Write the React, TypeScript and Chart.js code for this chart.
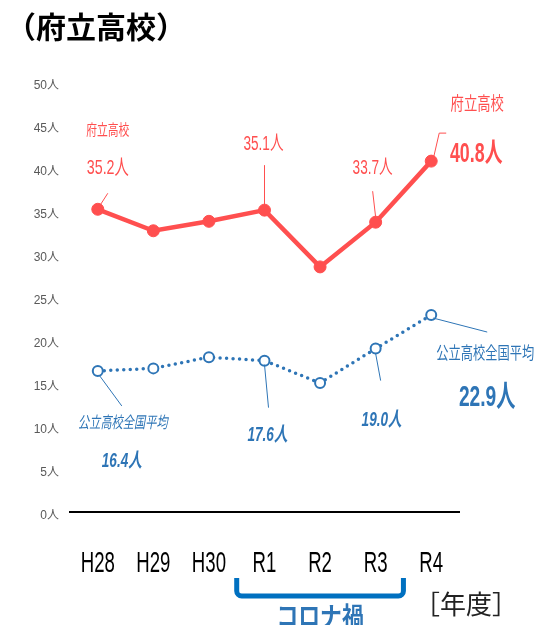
import React, { useEffect, useRef } from 'react';
import { Chart, registerables } from 'chart.js';

Chart.register(...registerables);

// ---- data ----
const categories = ['H28', 'H29', 'H30', 'R1', 'R2', 'R3', 'R4'];
const furitsuValues = [35.2, 32.7, 33.8, 35.1, 28.5, 33.7, 40.8];
const nationalValues = [16.4, 16.7, 18.0, 17.6, 15.0, 19.0, 22.9];
const yTickValues = [0, 5, 10, 15, 20, 25, 30, 35, 40, 45, 50];
const unitText = '人';
const furitsuName = '府立高校';
const nationalName = '公立高校全国平均';
const titleText = '（府立高校）';
const coronaText = 'コロナ禍';
const coronaFrom = 'R1';
const coronaTo = 'R3';
const yearUnitText = '［年度］';

// ---- styles ----
const RED = '#FF4F4F';
const BLUE = '#2E75B6';
const BRACKET_BLUE = '#0070C0';
const FONT = "'Liberation Sans', 'Noto Sans CJK JP', sans-serif";
const CJK = "'Noto Sans CJK JP', sans-serif";

type TextOpt = { size: number; color: string; weight?: string; italic?: boolean; sx?: number; family?: string; align?: CanvasTextAlign };

function drawText(ctx: CanvasRenderingContext2D, text: string, x: number, y: number, o: TextOpt) {
  ctx.save();
  ctx.font = `${o.italic ? 'italic ' : ''}${o.weight || 'normal'} ${o.size}px ${o.family || FONT}`;
  ctx.fillStyle = o.color;
  ctx.textAlign = o.align || 'center';
  ctx.textBaseline = 'middle';
  ctx.translate(x, y);
  ctx.scale(o.sx ?? 1, 1);
  ctx.fillText(text, 0, 0);
  ctx.restore();
}

const fmt = (v: number) => `${v.toFixed(1)}${unitText}`;

type Ann = {
  ds: number;
  idx: number;
  color: string;
  leader: [number, number][];
  texts: { t: string; dx: number; dy: number; opt: Omit<TextOpt, 'color'> }[];
};

const annotations: Ann[] = [
  {
    ds: 0, idx: 0, color: RED, leader: [[10, -16], [1, -2]],
    texts: [
      { t: furitsuName, dx: 10, dy: -78, opt: { size: 15, sx: 0.72 } },
      { t: fmt(furitsuValues[0]), dx: 10, dy: -41, opt: { size: 21, sx: 0.68 } },
    ],
  },
  {
    ds: 0, idx: 3, color: RED, leader: [[0, -45], [0, -4]],
    texts: [{ t: fmt(furitsuValues[3]), dx: -1, dy: -66, opt: { size: 20, sx: 0.68 } }],
  },
  {
    ds: 0, idx: 5, color: RED, leader: [[-3, -31], [0, -5]],
    texts: [{ t: fmt(furitsuValues[5]), dx: -3, dy: -54, opt: { size: 20, sx: 0.68 } }],
  },
  {
    ds: 0, idx: 6, color: RED, leader: [[2, -2], [8, -28], [15, -28]],
    texts: [
      { t: furitsuName, dx: 46, dy: -56, opt: { size: 18, sx: 0.74 } },
      { t: fmt(furitsuValues[6]), dx: 45, dy: -7, opt: { size: 27, sx: 0.66, weight: 'bold' } },
    ],
  },
  {
    ds: 1, idx: 0, color: BLUE, leader: [[2, 5], [24, 35]],
    texts: [
      { t: nationalName, dx: 25, dy: 53, opt: { size: 16, sx: 0.7, italic: true } },
      { t: fmt(nationalValues[0]), dx: 24, dy: 91, opt: { size: 20, sx: 0.68, italic: true, weight: 'bold' } },
    ],
  },
  {
    ds: 1, idx: 3, color: BLUE, leader: [[0, 4], [4, 47]],
    texts: [{ t: fmt(nationalValues[3]), dx: 3, dy: 75, opt: { size: 20, sx: 0.68, italic: true, weight: 'bold' } }],
  },
  {
    ds: 1, idx: 5, color: BLUE, leader: [[0, 5], [5, 32]],
    texts: [{ t: fmt(nationalValues[5]), dx: 6, dy: 72, opt: { size: 20, sx: 0.68, italic: true, weight: 'bold' } }],
  },
  {
    ds: 1, idx: 6, color: BLUE, leader: [[2, 3], [56, 17]],
    texts: [
      { t: nationalName, dx: 54, dy: 39, opt: { size: 17, sx: 0.72 } },
      { t: fmt(nationalValues[6]), dx: 56, dy: 83, opt: { size: 30, sx: 0.64, weight: 'bold' } },
    ],
  },
];

const decorPlugin = {
  id: 'decor',
  afterDraw(chart: any) {
    const ctx: CanvasRenderingContext2D = chart.ctx;
    const xs = chart.scales.x;

    // category labels on the x scale (narrow, tall lettering)
    categories.forEach((c, i) => {
      drawText(ctx, c, xs.getPixelForValue(i), 564, { size: 30, sx: 0.62, color: '#000' });
    });

    // annotations
    for (const a of annotations) {
      const el = chart.getDatasetMeta(a.ds).data[a.idx];
      if (!el) continue;
      const px = el.x, py = el.y;
      ctx.save();
      ctx.strokeStyle = a.color;
      ctx.lineWidth = 1;
      ctx.beginPath();
      a.leader.forEach(([dx, dy], i) => {
        if (i === 0) ctx.moveTo(px + dx, py + dy);
        else ctx.lineTo(px + dx, py + dy);
      });
      ctx.stroke();
      ctx.restore();
      for (const t of a.texts) {
        drawText(ctx, t.t, px + t.dx, py + t.dy, { ...t.opt, color: a.color });
      }
    }
    // title
    drawText(ctx, titleText, 6, 27, { size: 30, weight: 'bold', color: '#000', family: CJK, align: 'left' });

    // corona bracket
    const iFrom = categories.indexOf(coronaFrom);
    const iTo = categories.indexOf(coronaTo);
    const left = (xs.getPixelForValue(iFrom - 1) + xs.getPixelForValue(iFrom)) / 2;
    const right = (xs.getPixelForValue(iTo) + xs.getPixelForValue(iTo + 1)) / 2;
    const top = 578;
    const bottom = 596;
    const r = 5;
    ctx.save();
    ctx.strokeStyle = BRACKET_BLUE;
    ctx.lineWidth = 5;
    ctx.lineJoin = 'round';
    ctx.beginPath();
    ctx.moveTo(left, top);
    ctx.lineTo(left, bottom - r);
    ctx.arcTo(left, bottom, left + r, bottom, r);
    ctx.lineTo(right - r, bottom);
    ctx.arcTo(right, bottom, right, bottom - r, r);
    ctx.lineTo(right, top);
    ctx.stroke();
    ctx.restore();
    drawText(ctx, coronaText, (left + right) / 2, 616, { size: 26, weight: 'bold', color: BLUE, family: CJK, sx: 0.84 });
    drawText(ctx, yearUnitText, 466, 604, { size: 26, color: '#222', family: CJK });
  },
};

export default function App() {
  const ref = useRef<HTMLCanvasElement | null>(null);
  useEffect(() => {
    if (!ref.current) return;
    const chart = new Chart(ref.current, {
      type: 'line',
      data: {
        labels: categories,
        datasets: [
          {
            label: furitsuName,
            data: furitsuValues,
            borderColor: RED,
            backgroundColor: RED,
            borderWidth: 4.5,
            pointRadius: 6,
            pointBackgroundColor: RED,
            pointBorderColor: RED,
            pointBorderWidth: 1,
            tension: 0,
          },
          {
            label: nationalName,
            data: nationalValues,
            borderColor: BLUE,
            backgroundColor: '#fff',
            borderWidth: 3.5,
            borderDash: [0, 6.5],
            borderCapStyle: 'round',
            pointRadius: 5,
            pointBackgroundColor: '#fff',
            pointBorderColor: BLUE,
            pointBorderWidth: 2,
            tension: 0,
          },
        ],
      },
      options: {
        responsive: false,
        animation: false,
        devicePixelRatio: 1,
        layout: { padding: { top: 82, right: 79, left: 0, bottom: 0 } },
        plugins: { legend: { display: false }, tooltip: { enabled: false }, title: { display: false } },
        scales: {
          x: {
            offset: true,
            grid: { display: false, drawTicks: false },
            border: { display: true, color: '#000', width: 2 },
            ticks: { display: false, autoSkip: false, maxRotation: 0 },
            afterFit: (s: any) => { s.height = 625 - 512; },
          },
          y: {
            min: 0,
            max: 50,
            grid: { display: false, drawTicks: false },
            border: { display: false },
            afterBuildTicks: (s: any) => { s.ticks = yTickValues.map((v) => ({ value: v })); },
            ticks: {
              color: '#595959',
              font: { size: 12, family: FONT },
              padding: 11,
              labelOffset: 4,
              callback: (v: any) => `${v}${unitText}`,
            },
            afterFit: (s: any) => { s.width = 70; },
          },
        },
      },
      plugins: [decorPlugin],
    } as any);
    return () => chart.destroy();
  }, []);
  return (
    <div style={{ position: 'fixed', left: 0, top: 0, width: 538, height: 625, background: '#fff' }}>
      <canvas ref={ref} width={538} height={625} style={{ width: 538, height: 625, display: 'block' }} />
    </div>
  );
}
